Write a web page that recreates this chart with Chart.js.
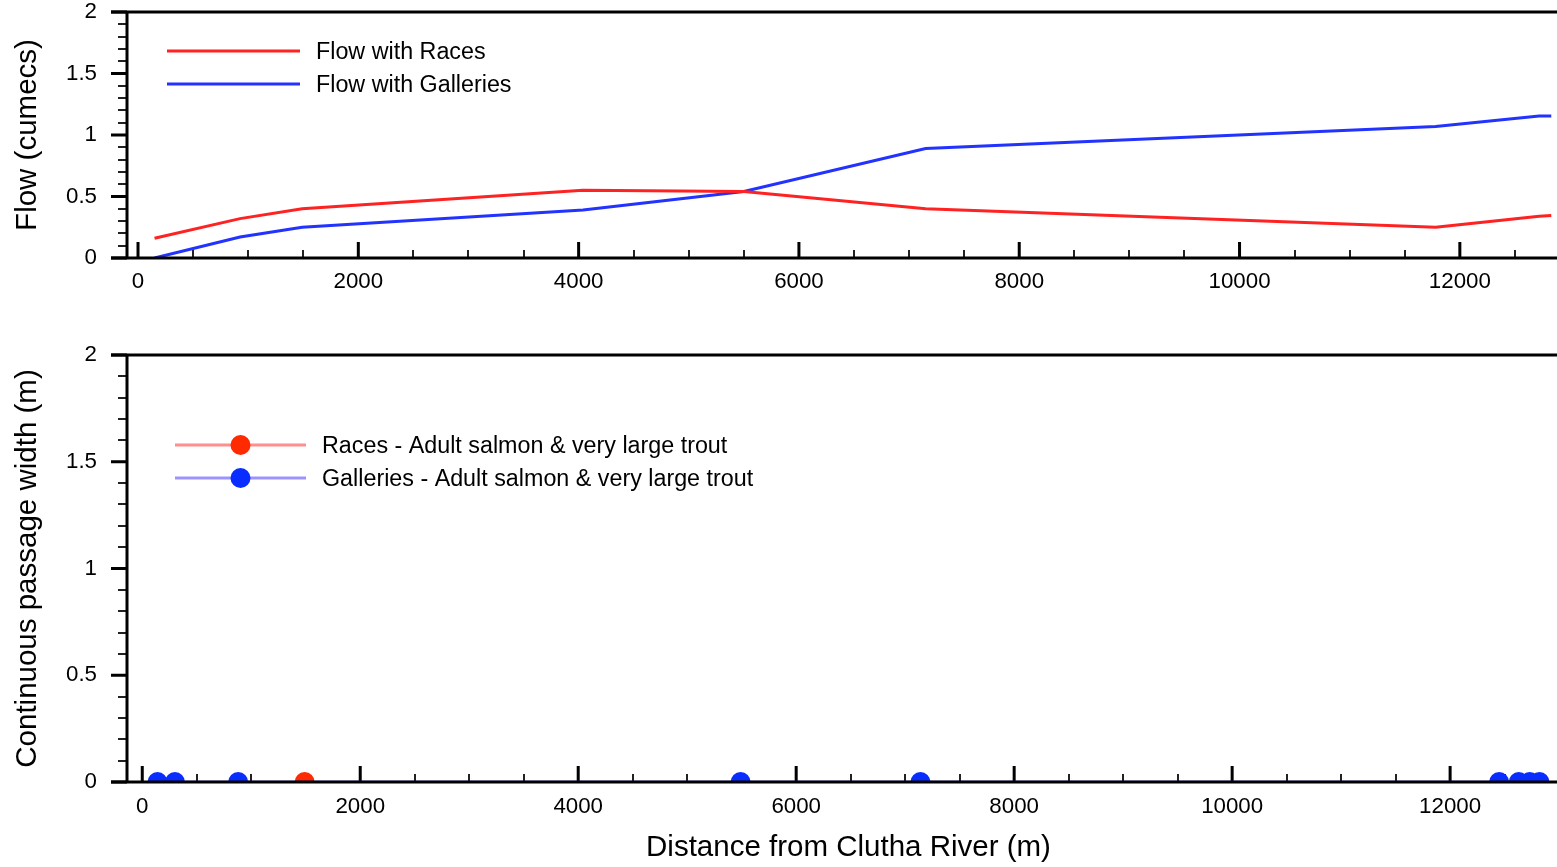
<!DOCTYPE html>
<html>
<head>
<meta charset="utf-8">
<script src="https://cdn.jsdelivr.net/npm/chart.js@4.4.1/dist/chart.umd.min.js"></script>
<style>
  html, body { margin: 0; padding: 0; background: #fff; overflow: hidden; }
  #wrap { position: relative; width: 1557px; height: 867px; overflow: hidden; }
  canvas { position: absolute; left: 0; }
  #flowChart { top: 0; }
  #passChart { top: 310px; }
</style>
</head>
<body>
<div id="wrap">
  <canvas id="flowChart" width="1570" height="310"></canvas>
  <canvas id="passChart" width="1570" height="557"></canvas>
</div>
<script>
// Flow along the race (cumecs) against distance from the Clutha River (m)
const flowDistance = [150, 926, 1490, 4040, 5500, 7150, 11780, 12720, 12830];
const flowRaces = [0.16, 0.32, 0.40, 0.55, 0.54, 0.40, 0.25, 0.34, 0.345];
const flowGalleries = [0.0, 0.17, 0.25, 0.39, 0.54, 0.89, 1.07, 1.155, 1.155];

// Continuous passage width (m) - adult salmon & very large trout
const racesDistance = [1490];
const racesWidth = [0];
const galleriesDistance = [140, 300, 880, 5490, 7140, 12450, 12630, 12730, 12820];
const galleriesWidth = [0, 0, 0, 0, 0, 0, 0, 0, 0];

// tick labels
const xTickLabels = [0, 2000, 4000, 6000, 8000, 10000, 12000];
const yTickLabels = [0, 0.5, 1, 1.5, 2];

const FONT = '"Liberation Sans", Arial, Helvetica, sans-serif';
Chart.defaults.font.family = FONT;
Chart.defaults.color = '#000';

const RED = '#ff2222';
const BLUE = '#2233ff';

function points(xs, ys) {
    return xs.map((x, i) => ({ x: x, y: ys[i] }));
}

// ticks go under the data, the frame goes over it
const frameTicks = {
    id: 'frameTicks',
    beforeDatasetsDraw(chart) {
        const { ctx, chartArea: a, scales: { x, y } } = chart;
        ctx.save();
        ctx.lineCap = 'butt';

        // minor ticks
        ctx.strokeStyle = '#222';
        ctx.lineWidth = 2;
        ctx.beginPath();
        for (let k = 1; k < 20; k++) {
            if (k % 5 === 0) continue;
            const py = Math.round(y.getPixelForValue(k / 10));
            ctx.moveTo(a.left - 9, py);
            ctx.lineTo(a.left, py);
        }
        for (let v = 500; v <= x.max; v += 500) {
            if (v % 2000 === 0) continue;
            const px = Math.round(x.getPixelForValue(v));
            ctx.moveTo(px, a.bottom);
            ctx.lineTo(px, a.bottom - 8);
        }
        ctx.stroke();

        // major ticks
        ctx.strokeStyle = '#000';
        ctx.lineWidth = 3;
        ctx.beginPath();
        yTickLabels.forEach(v => {
            const py = y.getPixelForValue(v);
            ctx.moveTo(a.left - 16, py);
            ctx.lineTo(a.left, py);
        });
        xTickLabels.forEach(v => {
            const px = x.getPixelForValue(v);
            ctx.moveTo(px, a.bottom);
            ctx.lineTo(px, a.bottom - 16);
        });
        ctx.stroke();
        ctx.restore();
    },
    afterDatasetsDraw(chart) {
        const { ctx, chartArea: a } = chart;
        ctx.save();
        ctx.strokeStyle = '#000';
        ctx.lineWidth = 3;
        ctx.beginPath();
        ctx.moveTo(a.left - 16, a.top);
        ctx.lineTo(a.right, a.top);
        ctx.moveTo(a.left, a.top);
        ctx.lineTo(a.left, a.bottom);
        ctx.moveTo(a.left - 16, a.bottom);
        ctx.lineTo(a.right, a.bottom);
        ctx.stroke();
        ctx.restore();
    }
};

// legend drawn inside the plot area, from the chart's own datasets
const insideLegend = {
    id: 'insideLegend',
    afterDraw(chart, args, opts) {
        const ctx = chart.ctx;
        ctx.save();
        ctx.font = '23.3px ' + FONT;
        ctx.textBaseline = 'middle';
        chart.data.datasets.forEach((ds, i) => {
            const ly = opts.top + i * opts.gap;
            ctx.strokeStyle = ds.borderColor;
            ctx.lineWidth = ds.borderWidth;
            ctx.beginPath();
            ctx.moveTo(opts.left, ly);
            ctx.lineTo(opts.right, ly);
            ctx.stroke();
            if (ds.pointRadius) {
                ctx.fillStyle = ds.pointBackgroundColor;
                ctx.beginPath();
                ctx.arc((opts.left + opts.right) / 2, ly, ds.pointRadius, 0, Math.PI * 2);
                ctx.fill();
            }
            ctx.fillStyle = '#000';
            ctx.fillText(ds.label, opts.textX, ly + 1.5);
        });
        ctx.restore();
    }
};

function makeScales(xMin, xMax, xHeight, labelPad, xTitle, yTitle) {
    return {
        x: {
            type: 'linear',
            min: xMin,
            max: xMax,
            grid: { display: false, drawTicks: false },
            border: { display: false },
            afterBuildTicks: s => { s.ticks = xTickLabels.map(v => ({ value: v })); },
            afterFit: s => { s.height = xHeight; s.paddingLeft = 0; s.paddingRight = 0; },
            ticks: {
                autoSkip: false,
                maxRotation: 0,
                padding: labelPad,
                font: { size: 22.3 },
                callback: v => String(v)
            },
            title: {
                display: !!xTitle,
                text: xTitle,
                font: { size: 29.5 },
                padding: { top: 0, bottom: 1 }
            }
        },
        y: {
            type: 'linear',
            min: 0,
            max: 2,
            grid: { display: false, drawTicks: false },
            border: { display: false },
            afterBuildTicks: s => { s.ticks = yTickLabels.map(v => ({ value: v })); },
            afterFit: s => { s.width = 127; s.paddingTop = 0; s.paddingBottom = 0; },
            ticks: {
                autoSkip: false,
                padding: 30,
                font: { size: 22.3 },
                callback: v => String(v)
            },
            title: {
                display: true,
                text: yTitle,
                font: { size: 29.5 },
                padding: { top: 10, bottom: 0 }
            }
        }
    };
}

new Chart(document.getElementById('flowChart'), {
    type: 'line',
    data: {
        datasets: [
            {
                label: 'Flow with Races',
                data: points(flowDistance, flowRaces),
                borderColor: RED,
                borderWidth: 3,
                pointRadius: 0,
                tension: 0
            },
            {
                label: 'Flow with Galleries',
                data: points(flowDistance, flowGalleries),
                borderColor: BLUE,
                borderWidth: 3,
                pointRadius: 0,
                tension: 0
            }
        ]
    },
    options: {
        responsive: false,
        animation: false,
        events: [],
        layout: { autoPadding: false, padding: { top: 12, left: 0, right: 0, bottom: 0 } },
        scales: makeScales(-100, 13000, 52, 10, '', 'Flow (cumecs)'),
        plugins: {
            legend: { display: false },
            tooltip: { enabled: false },
            insideLegend: { left: 167, right: 300, textX: 316, top: 51, gap: 33 }
        }
    },
    plugins: [frameTicks, insideLegend]
});

new Chart(document.getElementById('passChart'), {
    type: 'line',
    data: {
        datasets: [
            {
                label: 'Races - Adult salmon & very large trout',
                data: points(racesDistance, racesWidth),
                borderColor: 'rgba(255, 30, 30, 0.5)',
                borderWidth: 3,
                pointRadius: 10,
                pointBorderWidth: 0,
                pointBackgroundColor: '#ff2a00',
                order: 2
            },
            {
                label: 'Galleries - Adult salmon & very large trout',
                data: points(galleriesDistance, galleriesWidth),
                borderColor: 'rgba(60, 40, 255, 0.5)',
                borderWidth: 3,
                pointRadius: 10,
                pointBorderWidth: 0,
                pointBackgroundColor: '#0a2dff',
                order: 1
            }
        ]
    },
    options: {
        responsive: false,
        animation: false,
        events: [],
        layout: { autoPadding: false, padding: { top: 45, left: 0, right: 0, bottom: 0 } },
        scales: makeScales(-140, 13100, 85, 11, 'Distance from Clutha River (m)', 'Continuous passage width (m)'),
        plugins: {
            legend: { display: false },
            tooltip: { enabled: false },
            insideLegend: { left: 175, right: 306, textX: 322, top: 135, gap: 33 }
        }
    },
    plugins: [frameTicks, insideLegend]
});
</script>
</body>
</html>
